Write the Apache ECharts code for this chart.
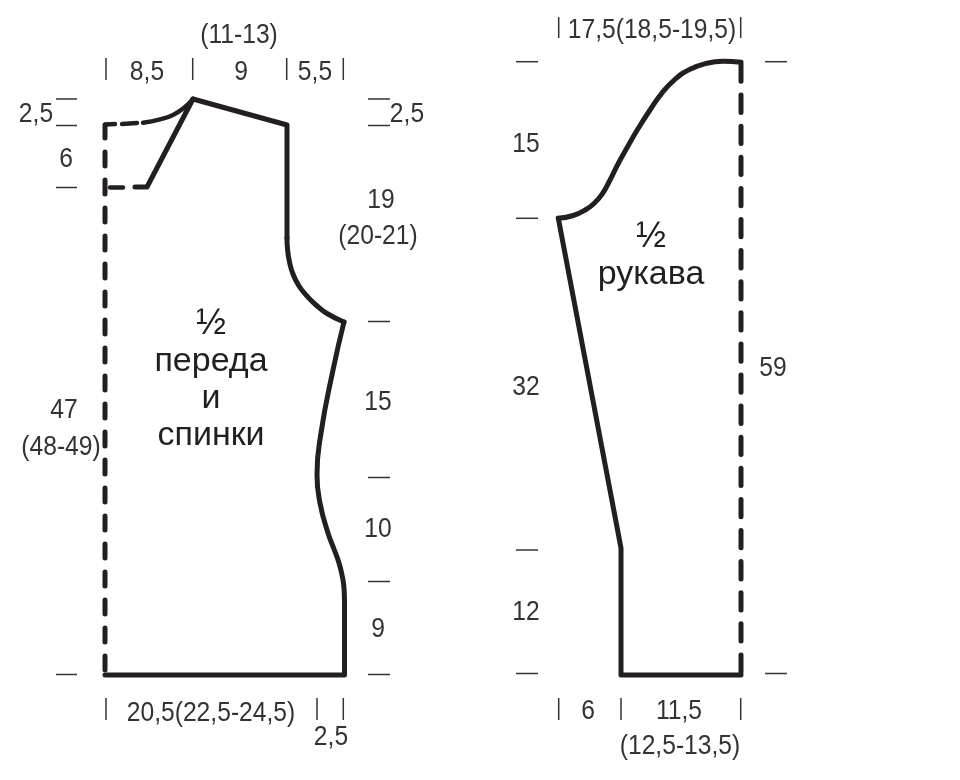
<!DOCTYPE html>
<html><head><meta charset="utf-8">
<style>html,body{margin:0;padding:0;background:#fff}#c{width:960px;height:780px}</style>
<script src="https://cdn.jsdelivr.net/npm/echarts@6/dist/echarts.min.js"></script>
</head><body><div id="c"></div>
<script>
// Garment outlines, in chart units
const frontShoulder = [[193,99],[287,125],[287,238]];
const frontArmhole = [[287,238],[287.6,250],[289.5,262],[293,274],[299,286],[307,296],[316,305],[327,313.5],[344,322]];
const frontSide = [[344,322],[333,370],[321,433],[317,475],[320,503],[328,533],[334,549],[339,563],[342,575],[344,588],[344.5,602]];
const frontHem = [[344.5,602],[344.5,675],[105,675]];
const frontNeckCurve = [[143,122.7],[160,119.3],[173,115],[185,107],[193,99]];
const frontNeckDiagonal = [[193,99],[147,187],[135,187]];
const frontNeckDash1 = [[105,124.5],[115,124]];
const frontNeckDash2 = [[122,124],[137,123]];
const frontNeckLowDash = [[110,187.5],[123,187.5]];
const frontCentreFold = [[105,125],[105,675]];
const sleeveCap = [[741,62.3],[723,61.3],[706.7,63.3],[690,69.3],[675,79.3],[661.7,93.3],[650,110],[638.3,128.3],[628,146],[618,164],[609,182],[602.5,193.5],[595,202.5],[586,209.5],[573.3,215.5],[558.3,218.3]];
const sleeveSide = [[558.3,218.3],[621,548],[621,675],[741,675]];
const sleeveFold = [[741,62],[741,675]];

// Dimension ticks: [x0, y0, x1, y1]
const tickMarks = [
  [56,99,77,99],[56,125.5,77,125.5],[56,187.5,77,187.5],[56,674.5,77,674.5],
  [368,99,390,99],[368,125.5,390,125.5],[368,321.5,390,321.5],[368,477.5,390,477.5],[368,581.5,390,581.5],[368,674.5,390,674.5],
  [106,58,106,80],[192.7,58,192.7,80],[286.7,58,286.7,80],[343.3,58,343.3,80],
  [106,698,106,720],[317,698,317,720],[343.3,698,343.3,720],
  [516,61.7,538,61.7],[516,218.3,538,218.3],[516,550,538,550],[516,673.5,538,673.5],
  [765,61.7,787,61.7],[765,673.5,787,673.5],
  [558.7,17,558.7,38],[740.7,17,740.7,38],
  [558.7,698,558.7,720],[621,698,621,720],[740.7,698,740.7,720]
];

// Dimension labels
const numberLabels = ["(11-13)","8,5","9","5,5","2,5","2,5","6","19","(20-21)","15","10","9","47","(48-49)","20,5(22,5-24,5)","2,5","17,5(18,5-19,5)","15","32","12","59","6","11,5","(12,5-13,5)"];
const numberX = [239,147,241,315,36,407,66,381,378,378,378,378,64,61,211,331,652,526,526,526,773,588,679,680];
const numberY = [35,72,72,72,114,114,159,200,236,402,529,629,410,447,713,737,30,144,387,612,368,711,711,746];
// Piece titles
const fractionLabels = ["½","½"];
const fractionX = [211,651];
const fractionY = [324,237];
const titleLabels = ["переда","и","спинки","рукава"];
const titleX = [211,211,211,651];
const titleY = [362,399,436,275];

const ink = '#231f20';
function path(data, opts){
  opts = opts || {};
  return {type:'line', data:data, showSymbol:false, symbol:'none', silent:true, animation:false,
    smooth: opts.smooth || false, clip:false,
    lineStyle:{color: opts.color||ink, width: opts.width||5, cap: opts.cap||'round', join:'round',
      type: opts.dash||'solid', dashOffset: opts.offset||0}};
}
function textSeries(labels, xs, ys, font, color, sx){
  return {type:'custom', silent:true, animation:false, clip:false,
    data: labels.map((t,i)=>[xs[i],ys[i]]),
    encode:{x:0,y:1},
    renderItem:function(params, api){
      const p = api.coord([api.value(0), api.value(1)]);
      return {type:'text', x:p[0], y:p[1], scaleX:sx, scaleY:1,
        style:{text:labels[params.dataIndex], font:font, fill:color, align:'center', verticalAlign:'middle'}};
    }};
}
const series = [
  path(frontShoulder), path(frontArmhole,{smooth:0.5}), path(frontSide,{smooth:0.5}), path(frontHem),
  path(frontNeckCurve,{smooth:0.5,width:4.4}), path(frontNeckDiagonal),
  path(frontNeckDash1,{width:4.4}), path(frontNeckDash2,{width:4.4}), path(frontNeckLowDash,{width:4.4}),
  path(frontCentreFold,{dash:[14,14],offset:1}),
  path(sleeveCap,{smooth:0.5}), path(sleeveSide),
  path(sleeveFold,{dash:[17.3,13.8],offset:29.1})
];
tickMarks.forEach(t=>series.push(path([[t[0],t[1]],[t[2],t[3]]],{width:1.5,cap:'butt',color:'#333'})));
series.push(textSeries(numberLabels,numberX,numberY,'28px "Liberation Sans"','#333',0.88));
series.push(textSeries(titleLabels,titleX,titleY,'34px "Liberation Sans"',ink,1));
series.push(textSeries(fractionLabels,fractionX,fractionY,'36px "Liberation Sans"',ink,1));

const chart = echarts.init(document.getElementById('c'),null,{renderer:'canvas'});
chart.setOption({
  backgroundColor:'#fff', animation:false,
  grid:{left:0,right:0,top:0,bottom:0},
  xAxis:{type:'value',min:0,max:960,show:false},
  yAxis:{type:'value',min:0,max:780,inverse:true,show:false},
  tooltip:{show:false}, legend:{show:false},
  series:series
});
</script></body></html>
